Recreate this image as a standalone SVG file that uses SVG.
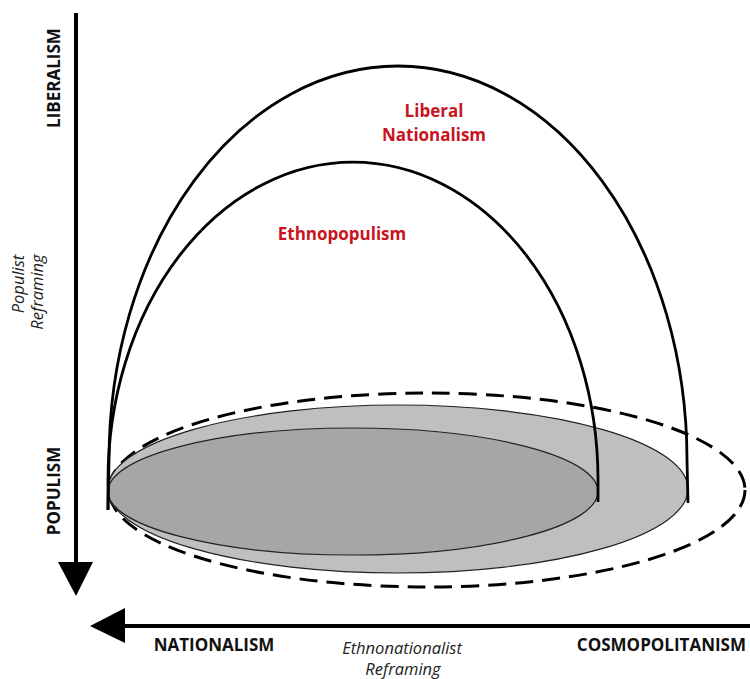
<svg xmlns="http://www.w3.org/2000/svg" width="750" height="679" viewBox="0 0 750 679">
  <style>
    .axis-label { font-family: "Open Sans", "Liberation Sans", sans-serif; font-weight: bold; font-size: 17px; fill: #111; }
    .note { font-family: "Open Sans", "Liberation Sans", sans-serif; font-style: italic; font-size: 16.5px; fill: #222; }
    .red { font-family: "Open Sans", "Liberation Sans", sans-serif; font-weight: bold; font-size: 17px; fill: #c8141e; text-anchor: middle; }
    .arch { fill: none; stroke: #000; stroke-width: 2.8; }
    .axis { stroke: #000; stroke-width: 4; fill: none; }
  </style>
  <rect width="750" height="679" fill="#fff"/>

  <g id="base-dashed">
    <ellipse cx="427" cy="490" rx="318" ry="97" fill="none" stroke="#000" stroke-width="3" stroke-dasharray="18 9"/>
  </g>
  <g id="base-liberal">
    <ellipse cx="398" cy="489" rx="290" ry="84" fill="#bfbfbf" stroke="#222" stroke-width="1.2"/>
  </g>
  <g id="base-ethno">
    <ellipse cx="353" cy="491.5" rx="245" ry="63.5" fill="#a6a6a6" stroke="#222" stroke-width="1.2"/>
  </g>

  <g id="liberal-nationalism">
    <path class="arch" d="M108,510 L109,460 A289,394 0 0 1 687,460 L688,503"/>
    <text class="red" x="434" y="117">Liberal</text>
    <text class="red" x="434" y="141">Nationalism</text>
  </g>
  <g id="ethnopopulism">
    <path class="arch" d="M108,510 L108,480 A245,318 0 0 1 598,480 L598,502"/>
    <text class="red" x="342" y="240">Ethnopopulism</text>
  </g>

  <g id="connectors">
    <line class="axis" x1="76" y1="13" x2="76" y2="563"/>
    <polygon points="58,562 93,562 76,596" fill="#000"/>
    <line class="axis" x1="124" y1="626" x2="750" y2="626"/>
    <polygon points="125,608 125,643 90,626" fill="#000"/>
  </g>

  <g id="labels">
    <text class="axis-label" transform="translate(60,78) rotate(-90)" text-anchor="middle">LIBERALISM</text>
    <text class="axis-label" transform="translate(60,491) rotate(-90)" text-anchor="middle">POPULISM</text>
    <text class="axis-label" x="214" y="651" text-anchor="middle">NATIONALISM</text>
    <text class="axis-label" x="746" y="651" text-anchor="end">COSMOPOLITANISM</text>
    <text class="note" transform="translate(24,284) rotate(-90)" text-anchor="middle">Populist</text>
    <text class="note" transform="translate(43,292) rotate(-90)" text-anchor="middle">Reframing</text>
    <text class="note" x="402" y="654" text-anchor="middle">Ethnonationalist</text>
    <text class="note" x="403" y="675" text-anchor="middle">Reframing</text>
  </g>
</svg>
